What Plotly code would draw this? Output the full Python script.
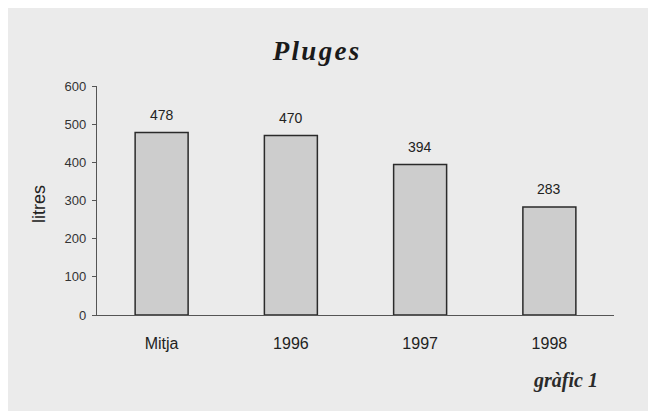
import plotly.graph_objects as go

categories = ["Mitja", "1996", "1997", "1998"]
values = [478, 470, 394, 283]
y_ticks = [0, 100, 200, 300, 400, 500, 600]

# figure is drawn inside the page's default 8px body margin (gives the white frame)
W, H = 640, 403
L, R, T, B = 89, 606, 78, 307
PW, PH = R - L, B - T

fig = go.Figure()
fig.add_trace(go.Bar(
    x=categories, y=values,
    marker=dict(color="#cdcdcd", line=dict(color="#2a2a2a", width=1.5)),
    width=0.41, hoverinfo="skip",
))

annotations = [
    dict(x=i, y=v, xref="x", yref="y", text=str(v), showarrow=False,
         yanchor="bottom", yshift=8,
         font=dict(family="Liberation Sans, Arial", size=14, color="#222"))
    for i, v in enumerate(values)
]
annotations.append(dict(text="<b><i>gràfic 1</i></b>", xref="paper", yref="paper",
                        x=(557 - L) / PW, y=-(372 - B) / PH,
                        xanchor="center", yanchor="middle", showarrow=False,
                        font=dict(family="Liberation Serif, Times New Roman", size=20, color="#2a2a2a")))
annotations.append(dict(text="litres", xref="paper", yref="paper",
                        x=(31 - L) / PW, y=1 - (196 - T) / PH, textangle=-90,
                        xanchor="center", yanchor="middle", showarrow=False,
                        font=dict(family="Liberation Sans, Arial", size=18, color="#222")))

title_text = "\u200a".join("Pluges")

fig.update_layout(
    width=W, height=H,
    margin=dict(l=L, r=W - R, t=T, b=H - B, autoexpand=False),
    paper_bgcolor="#ebebeb", plot_bgcolor="rgba(0,0,0,0)",
    showlegend=False,
    title=dict(text="<b><i>" + title_text + "</i></b>", x=308 / W, xanchor="center",
               y=1 - 43 / H, yanchor="middle",
               font=dict(family="Liberation Serif, Times New Roman", size=27, color="#1a1a1a")),
    xaxis=dict(type="category", showline=True, linecolor="#555", linewidth=1.2, ticks="",
               tickfont=dict(family="Liberation Sans, Arial", size=16, color="#222"),
               ticklabelstandoff=14,
               range=[-0.5, 3.5], fixedrange=True),
    yaxis=dict(range=[0, 600], tickvals=y_ticks, showline=True, linecolor="#555",
               linewidth=1.2, ticks="outside", ticklen=4, tickcolor="#555",
               showgrid=False, zeroline=False, ticklabelstandoff=3,
               tickfont=dict(family="Liberation Sans, Arial", size=13, color="#333")),
    annotations=annotations,
)
fig.write_html("out.html")
